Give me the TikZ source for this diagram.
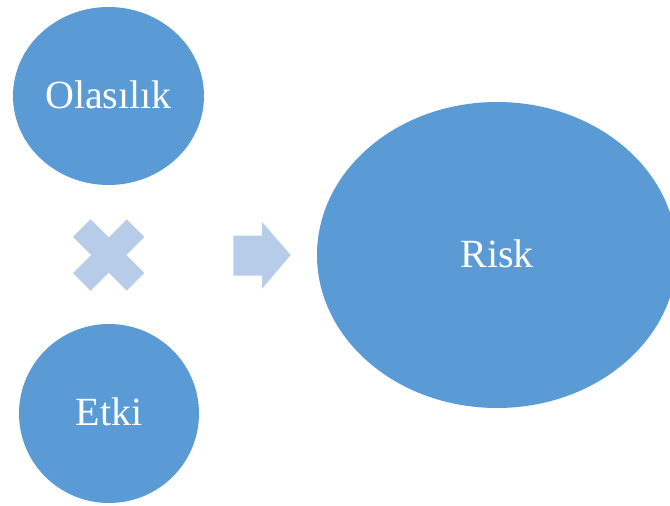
\documentclass[tikz,border=0pt]{standalone}
\usepackage{fontspec}
\setmainfont{Liberation Serif}
\usetikzlibrary{shapes.geometric}
\definecolor{mainblue}{HTML}{5B9BD5}
\definecolor{lightblue}{HTML}{B7CCE9}
\tikzset{
  blob/.style={ellipse, fill=mainblue, draw=none, inner sep=0pt, text=white,
    font=\fontsize{40}{48}\selectfont, text height=24pt, text depth=0pt},
  sign/.style={fill=lightblue, draw=none}
}
\begin{document}
\begin{tikzpicture}[x=1pt,y=-1pt]
\useasboundingbox (0,0) rectangle (670,506);
\clip (0,0) rectangle (670,506);
\node[blob, minimum width=191pt, minimum height=178pt] (olas) at (108.5,96) {Olasılık};
\node[blob, minimum width=180pt, minimum height=179pt] (etki) at (109,413.5) {Etki};
\node[blob, minimum width=360pt, minimum height=306pt] (risk) at (497,255) {Risk};
% multiply sign
\begin{scope}[shift={(108.7,255)}, rotate=45]
\fill[sign] (-12.5,-38) -- (12.5,-38) -- (12.5,-12.5) -- (38,-12.5) -- (38,12.5) -- (12.5,12.5)
  -- (12.5,38) -- (-12.5,38) -- (-12.5,12.5) -- (-38,12.5) -- (-38,-12.5) -- (-12.5,-12.5) -- cycle;
\end{scope}
% arrow
\fill[sign] (233.3,235.7) -- (262,235.7) -- (262,222) -- (290.7,255) -- (262,288.7) -- (262,275.7) -- (233.3,275.7) -- cycle;
\end{tikzpicture}
\end{document}
